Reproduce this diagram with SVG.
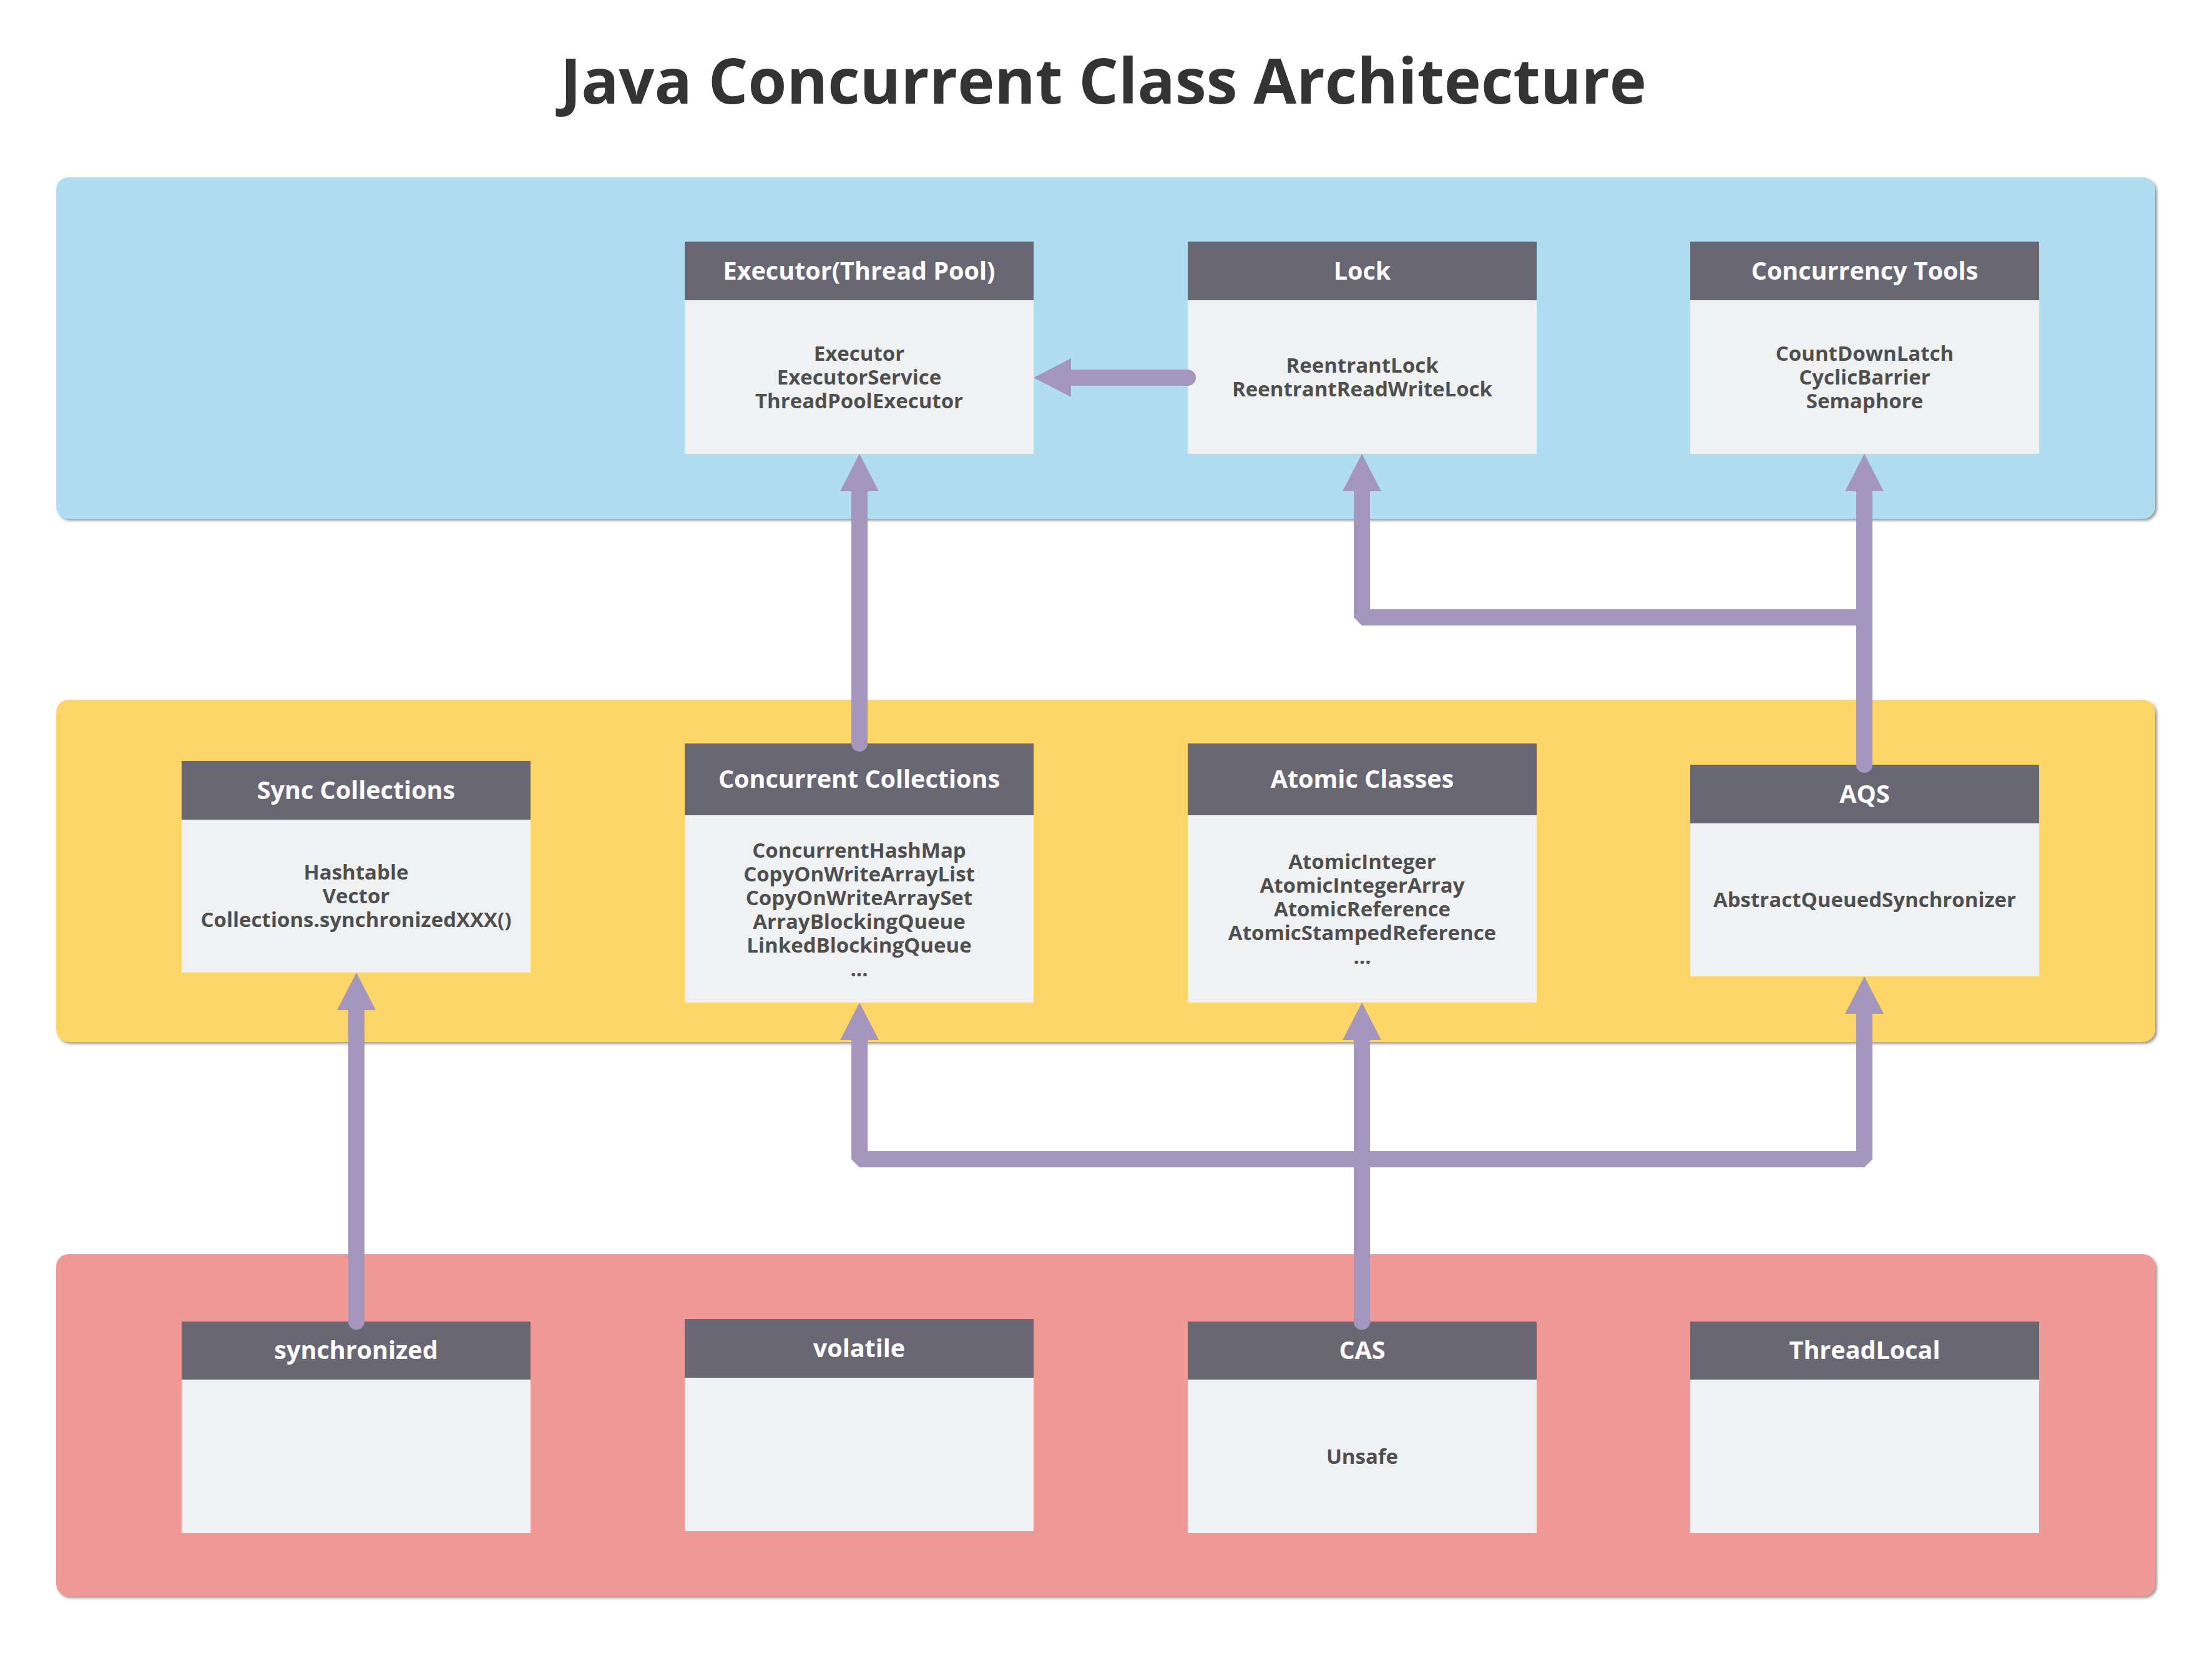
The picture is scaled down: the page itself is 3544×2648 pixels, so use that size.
<svg xmlns="http://www.w3.org/2000/svg" width="3544" height="2648" viewBox="0 0 3544 2648">
  <defs>
    <filter id="shadow" x="-2%" y="-5%" width="104%" height="112%">
      <feDropShadow dx="3" dy="3" stdDeviation="2" flood-color="#444" flood-opacity="0.55"/>
    </filter>
    <marker id="arrow" viewBox="0 0 60 62" refX="0" refY="31" markerWidth="60" markerHeight="62" markerUnits="userSpaceOnUse" orient="auto">
      <path d="M0,0 L60,31 L0,62 Z" fill="#a596bd"/>
    </marker>
  </defs>
  <style>
    text { font-family: "Open Sans", "Liberation Sans", sans-serif; font-weight: 700; text-anchor: middle; }
    .title { font-size: 100px; fill: #333333; }
    .hdr { fill: #6a6775; }
    .body { fill: #f0f1f3; }
    .ht { font-size: 39.5px; fill: #ffffff; }
    .bt { font-size: 33px; fill: #4f4f4f; }
    .panel { filter: url(#shadow); }
    .conn { fill: none; stroke: #a596bd; stroke-width: 26; stroke-linecap: round; stroke-linejoin: bevel; }
  </style>
  <rect x="0" y="0" width="3544" height="2648" fill="#ffffff"/>
  <text class="title" x="1768" y="166">Java Concurrent Class Architecture</text>

  <g id="layers">
    <rect class="panel" x="90" y="284" width="3363" height="547" rx="20" fill="#b0ddf0"/>
    <rect class="panel" x="90" y="1121" width="3363" height="548" rx="20" fill="#fcd669"/>
    <rect class="panel" x="90" y="2009" width="3363" height="548" rx="20" fill="#f09a97"/>
  </g>

  <g id="executor">
    <rect class="hdr" x="1097" y="387" width="559" height="94"/>
    <rect class="body" x="1097" y="481" width="559" height="246"/>
    <text class="ht" x="1376.5" y="448">Executor(Thread Pool)</text>
    <text class="bt" x="1376.5" y="577.5">Executor</text>
    <text class="bt" x="1376.5" y="615.5">ExecutorService</text>
    <text class="bt" x="1376.5" y="653.5">ThreadPoolExecutor</text>
  </g>
  <g id="lock">
    <rect class="hdr" x="1903" y="387" width="559" height="94"/>
    <rect class="body" x="1903" y="481" width="559" height="246"/>
    <text class="ht" x="2182.5" y="448">Lock</text>
    <text class="bt" x="2182.5" y="596.5">ReentrantLock</text>
    <text class="bt" x="2182.5" y="634.5">ReentrantReadWriteLock</text>
  </g>
  <g id="concurrency-tools">
    <rect class="hdr" x="2708" y="387" width="559" height="94"/>
    <rect class="body" x="2708" y="481" width="559" height="246"/>
    <text class="ht" x="2987.5" y="448">Concurrency Tools</text>
    <text class="bt" x="2987.5" y="577.5">CountDownLatch</text>
    <text class="bt" x="2987.5" y="615.5">CyclicBarrier</text>
    <text class="bt" x="2987.5" y="653.5">Semaphore</text>
  </g>

  <g id="sync-collections">
    <rect class="hdr" x="291" y="1219" width="559" height="94"/>
    <rect class="body" x="291" y="1313" width="559" height="245"/>
    <text class="ht" x="570.5" y="1280">Sync Collections</text>
    <text class="bt" x="570.5" y="1409">Hashtable</text>
    <text class="bt" x="570.5" y="1447">Vector</text>
    <text class="bt" x="570.5" y="1485">Collections.synchronizedXXX()</text>
  </g>
  <g id="concurrent-collections">
    <rect class="hdr" x="1097" y="1191" width="559" height="115"/>
    <rect class="body" x="1097" y="1306" width="559" height="300"/>
    <text class="ht" x="1376.5" y="1262">Concurrent Collections</text>
    <text class="bt" x="1376.5" y="1374">ConcurrentHashMap</text>
    <text class="bt" x="1376.5" y="1412">CopyOnWriteArrayList</text>
    <text class="bt" x="1376.5" y="1450">CopyOnWriteArraySet</text>
    <text class="bt" x="1376.5" y="1488">ArrayBlockingQueue</text>
    <text class="bt" x="1376.5" y="1526">LinkedBlockingQueue</text>
    <text class="bt" x="1376.5" y="1564">...</text>
  </g>
  <g id="atomic-classes">
    <rect class="hdr" x="1903" y="1191" width="559" height="115"/>
    <rect class="body" x="1903" y="1306" width="559" height="300"/>
    <text class="ht" x="2182.5" y="1262">Atomic Classes</text>
    <text class="bt" x="2182.5" y="1392">AtomicInteger</text>
    <text class="bt" x="2182.5" y="1430">AtomicIntegerArray</text>
    <text class="bt" x="2182.5" y="1468">AtomicReference</text>
    <text class="bt" x="2182.5" y="1506">AtomicStampedReference</text>
    <text class="bt" x="2182.5" y="1544">...</text>
  </g>
  <g id="aqs">
    <rect class="hdr" x="2708" y="1225" width="559" height="94"/>
    <rect class="body" x="2708" y="1319" width="559" height="245"/>
    <text class="ht" x="2987.5" y="1286">AQS</text>
    <text class="bt" x="2987.5" y="1453">AbstractQueuedSynchronizer</text>
  </g>

  <g id="synchronized">
    <rect class="hdr" x="291" y="2117" width="559" height="93"/>
    <rect class="body" x="291" y="2210" width="559" height="246"/>
    <text class="ht" x="570.5" y="2177">synchronized</text>
  </g>
  <g id="volatile">
    <rect class="hdr" x="1097" y="2113" width="559" height="94"/>
    <rect class="body" x="1097" y="2207" width="559" height="246"/>
    <text class="ht" x="1376.5" y="2174">volatile</text>
  </g>
  <g id="cas">
    <rect class="hdr" x="1903" y="2117" width="559" height="93"/>
    <rect class="body" x="1903" y="2210" width="559" height="246"/>
    <text class="ht" x="2182.5" y="2177">CAS</text>
    <text class="bt" x="2182.5" y="2345">Unsafe</text>
  </g>
  <g id="threadlocal">
    <rect class="hdr" x="2708" y="2117" width="559" height="93"/>
    <rect class="body" x="2708" y="2210" width="559" height="246"/>
    <text class="ht" x="2987.5" y="2177">ThreadLocal</text>
  </g>

  <g id="connectors">
    <path class="conn" d="M1903,605 H1716" marker-end="url(#arrow)"/>
    <path class="conn" d="M1377,1191 V787" marker-end="url(#arrow)"/>
    <path class="conn" d="M2987,1225 V787" marker-end="url(#arrow)"/>
    <path class="conn" d="M2987,1225 V989 H2182 V787" marker-end="url(#arrow)"/>
    <path class="conn" d="M571,2117 V1618" marker-end="url(#arrow)"/>
    <path class="conn" d="M2182,2117 V1666" marker-end="url(#arrow)"/>
    <path class="conn" d="M2182,2117 V1857 H1377 V1666" marker-end="url(#arrow)"/>
    <path class="conn" d="M2182,2117 V1857 H2987 V1624" marker-end="url(#arrow)"/>
  </g>
</svg>
